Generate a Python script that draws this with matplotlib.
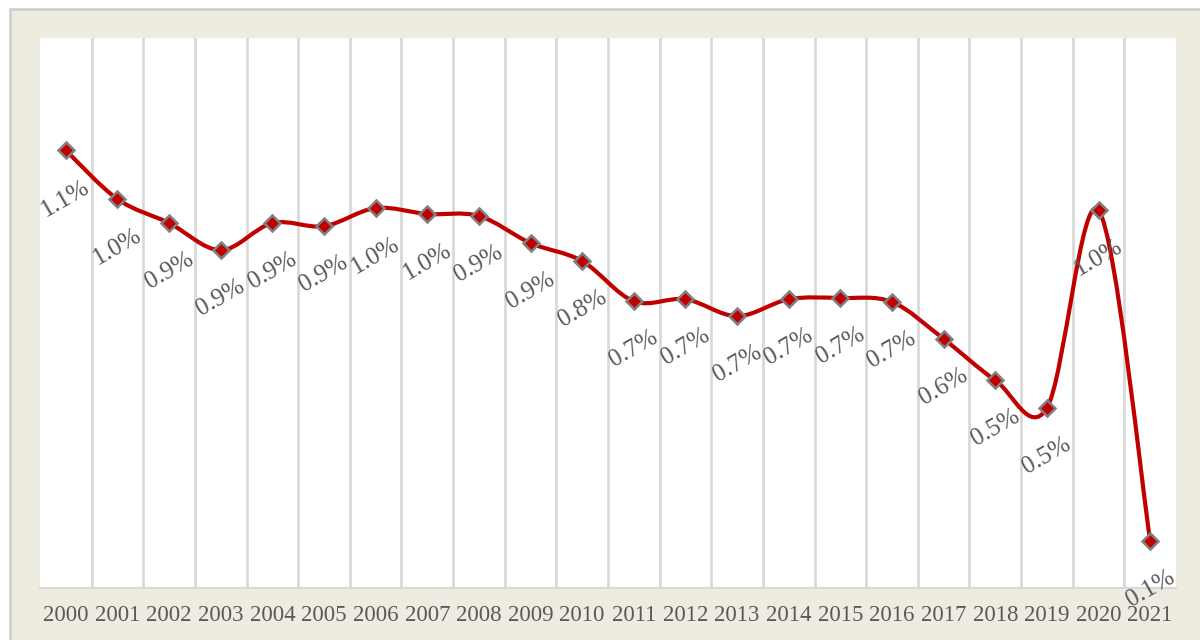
import numpy as np
import matplotlib.pyplot as plt
from matplotlib.path import Path
from matplotlib.patches import PathPatch, Rectangle

years = [str(y) for y in range(2000, 2022)]
rate = [1.114, 0.990, 0.929, 0.860, 0.929, 0.921, 0.967, 0.952, 0.947, 0.878,
        0.832, 0.730, 0.735, 0.692, 0.735, 0.738, 0.728, 0.634, 0.529, 0.458,
        0.962, 0.120]

plt.rcParams['font.family'] = ['Liberation Serif', 'DejaVu Serif']

RED = '#C00000'
GREY_TXT = '#595959'
GRID = '#D9D9D9'
BEIGE = '#EEEBE0'


def smooth_path(x, y):
    # Catmull-Rom style bezier segments, like a spreadsheet "smoothed line"
    pts = np.column_stack([x, y]).astype(float)
    ext = np.vstack([pts[0], pts, pts[-1]])
    verts = [pts[0]]
    codes = [Path.MOVETO]
    for i in range(len(pts) - 1):
        p0, p1, p2, p3 = ext[i], ext[i + 1], ext[i + 2], ext[i + 3]
        c1 = p1 + (p2 - p0) / 6.0
        c2 = p2 - (p3 - p1) / 6.0
        verts += [c1, c2, p2]
        codes += [Path.CURVE4] * 3
    return Path(verts, codes)


fig = plt.figure(figsize=(12, 6.4), dpi=100)
fig.patch.set_facecolor('white')
fig.patches.append(Rectangle((10 / 1200, -0.05), 1.2, (640 - 9) / 640 + 0.05,
                             transform=fig.transFigure, facecolor=BEIGE,
                             edgecolor='#D0D0D0', linewidth=2, zorder=-5))

ax = fig.add_axes([40 / 1200, 52 / 640, 1136 / 1200, 550 / 640])
ax.set_facecolor('white')

x = np.arange(len(years))
ax.set_xlim(-0.5, len(years) - 0.5)
ax.set_ylim(0, 1.4)

ax.set_xticks(x)
ax.set_xticklabels(years, fontsize=16.5, color=GREY_TXT)
ax.set_xticks(x[:-1] + 0.5, minor=True)
ax.tick_params(axis='x', which='both', length=0, pad=12)
ax.set_yticks([])
ax.grid(axis='x', which='minor', color=GRID, linewidth=2)
for s in ['top', 'left', 'right']:
    ax.spines[s].set_visible(False)
ax.spines['bottom'].set_color(GRID)
ax.spines['bottom'].set_linewidth(1.5)

ax.add_patch(PathPatch(smooth_path(x, rate), facecolor='none', edgecolor=RED,
                       linewidth=3, zorder=3, capstyle='round'))
ax.plot(x, rate, linestyle='none', marker='D', markersize=8,
        markerfacecolor=RED, markeredgecolor='#808080', markeredgewidth=1.8,
        zorder=4)

for xi, v in zip(x, rate):
    ax.annotate(f'{v:.1f}%', (xi, v), xytext=(0, -48),
                textcoords='offset pixels', ha='center', va='center',
                rotation=30, fontsize=18, color=GREY_TXT, zorder=5)

fig.savefig('out.png', dpi=100, facecolor=fig.get_facecolor())
